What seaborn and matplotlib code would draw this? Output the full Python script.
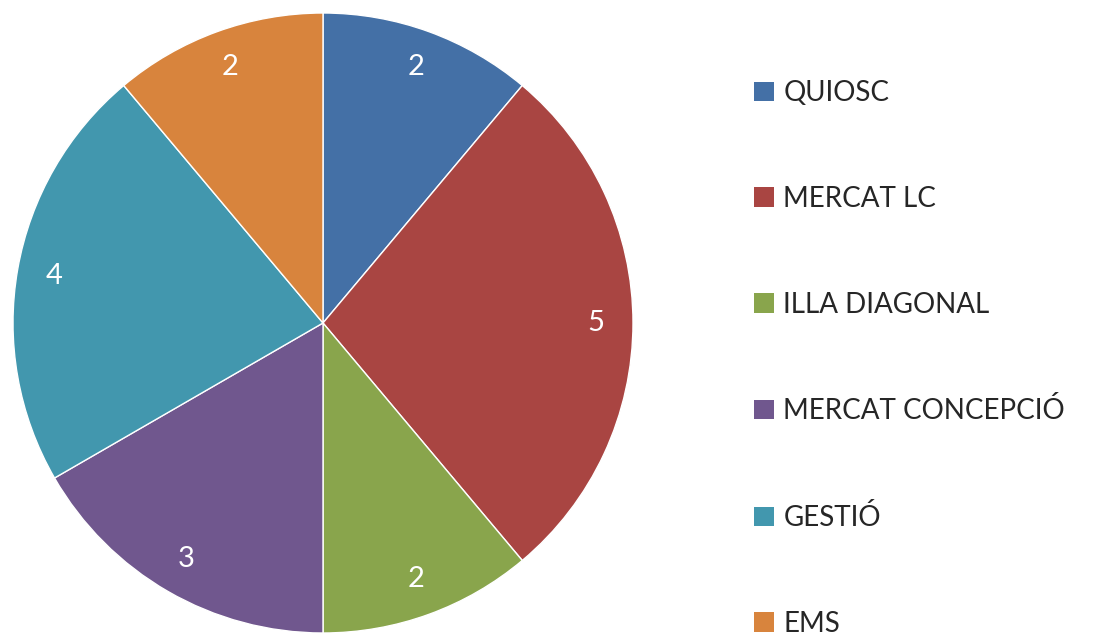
import matplotlib
matplotlib.use("Agg")
import matplotlib.pyplot as plt
import seaborn as sns

# dades del gràfic
categories = ["QUIOSC", "MERCAT LC", "ILLA DIAGONAL", "MERCAT CONCEPCIÓ", "GESTIÓ", "EMS"]
valors = [2, 5, 2, 3, 4, 2]
colors = ["#4470A6", "#A94542", "#89A54C", "#70578E", "#4297AE", "#D8843D"]

sns.set_theme(style="white")
plt.rcParams['font.family'] = ['Lato', 'DejaVu Sans']

fig = plt.figure(figsize=(11.11, 6.34), dpi=100)
ax = fig.add_axes([13 / 1111, 1 / 634, 620 / 1111, 620 / 634])

wedges, texts = ax.pie(valors, labels=[str(v) for v in valors], colors=colors,
                       startangle=90, counterclock=False, labeldistance=0.88,
                       wedgeprops=dict(edgecolor="white", linewidth=1),
                       textprops=dict(color="white", fontsize=21))
for t in texts:
    t.set_horizontalalignment("center")
    t.set_verticalalignment("center")
ax.set_xlim(-1, 1)
ax.set_ylim(-1, 1)
ax.set_aspect("equal")

leg = fig.legend(wedges, categories, loc="upper left", bbox_to_anchor=(743 / 1111, 1 - 69 / 634),
                 frameon=False, fontsize=20, handlelength=0.7, handleheight=0.7,
                 handletextpad=0.35, labelspacing=2.87, borderaxespad=0)
for h in leg.legend_handles:
    h.set_edgecolor("none")

fig.savefig("out.png", dpi=100)
